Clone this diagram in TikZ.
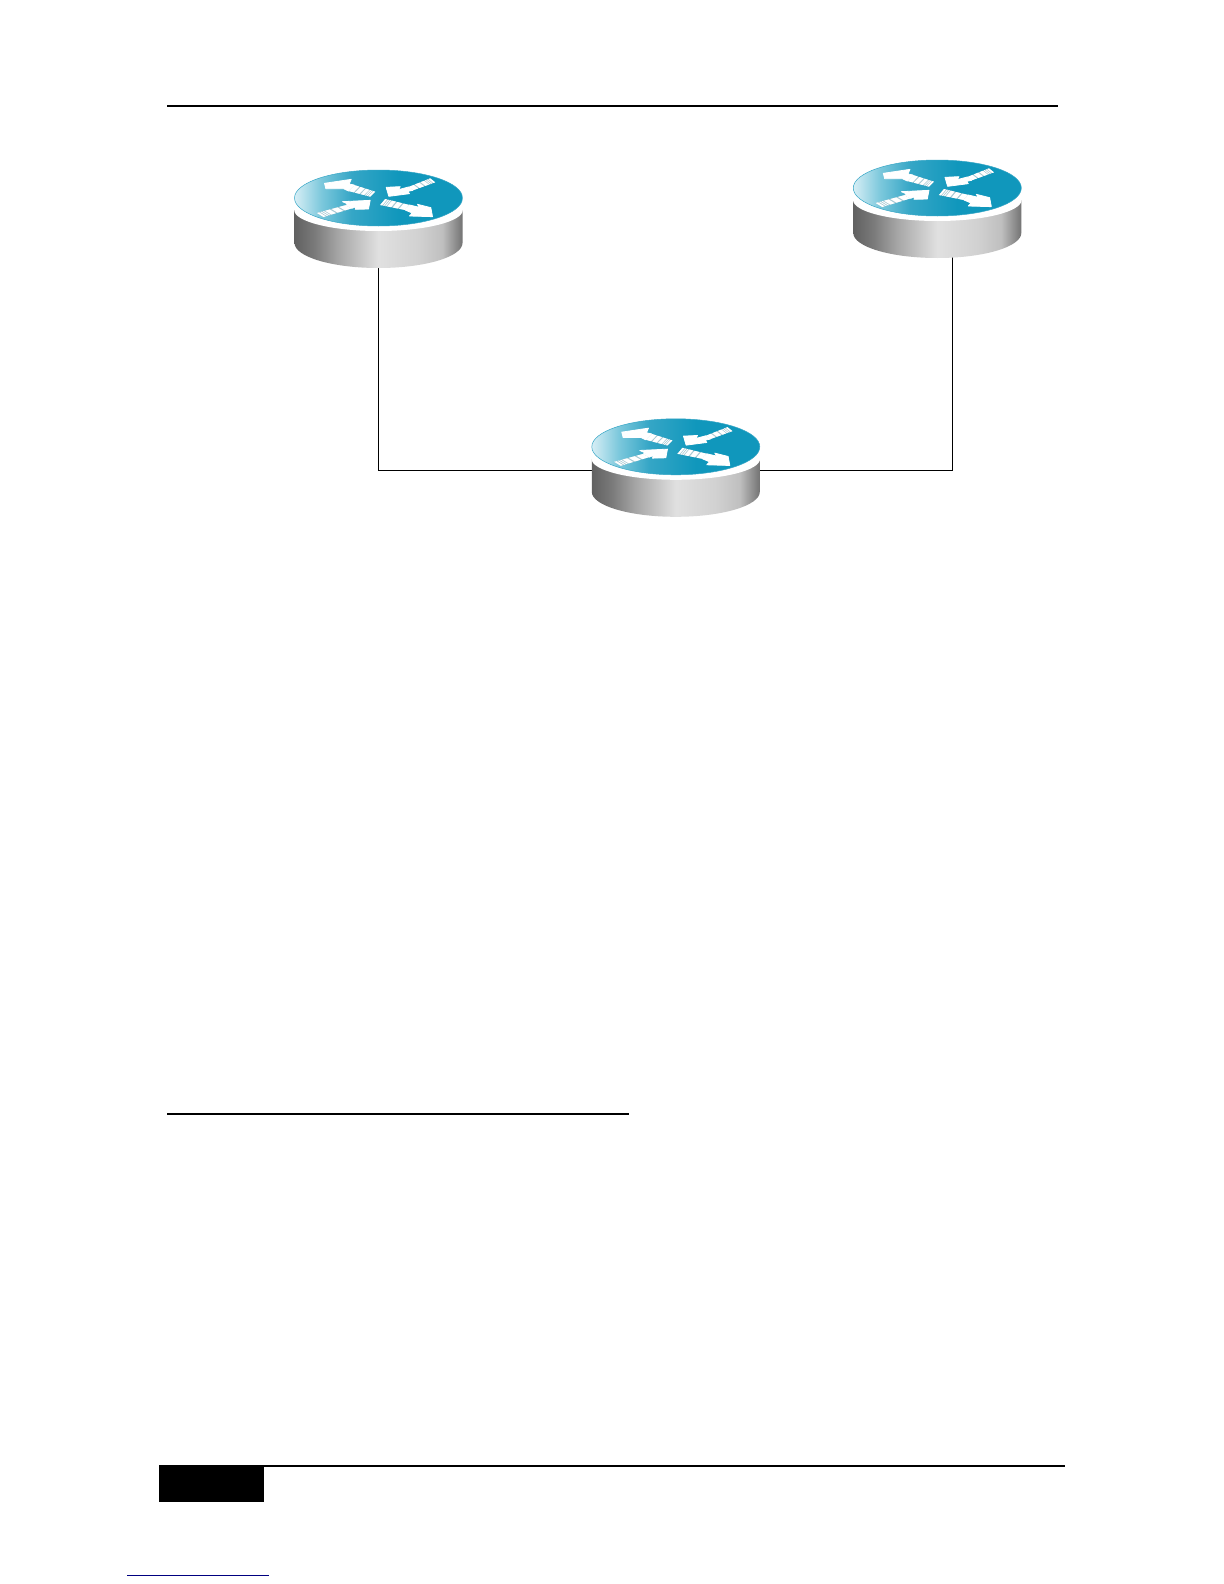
\documentclass[tikz,border=0pt]{standalone}
\usepackage{tikz}
\usetikzlibrary{positioning,calc}
\definecolor{routerink}{HTML}{A9C9D3}
\definecolor{footnavy}{HTML}{000080}
\definecolor{topa}{HTML}{D6EEF5}
\definecolor{topb}{HTML}{7CC8DC}
\definecolor{topc}{HTML}{35A6C6}
\definecolor{topd}{HTML}{1097BC}
\pgfdeclarehorizontalshading{routertop}{100bp}{
  color(0bp)=(topa); color(25bp)=(topa); color(33bp)=(topb);
  color(42bp)=(topc); color(56bp)=(topd); color(75bp)=(topd); color(100bp)=(topd)}
\pgfdeclarehorizontalshading{routerside}{100bp}{
  color(0bp)=(black!62); color(25bp)=(black!62); color(31bp)=(black!52);
  color(38bp)=(black!35); color(50bp)=(black!12); color(62bp)=(black!18);
  color(69bp)=(black!25); color(72bp)=(black!40); color(75bp)=(black!55);
  color(100bp)=(black!55)}
\tikzset{
  routerbase/.style={
    rectangle,
    inner sep=0pt,
    minimum width=84pt,
    minimum height=46pt
  },
  link/.style={
    draw=black,
    line width=0.5pt
  },
  pagerule/.style={
    draw=black,
    line width=1pt
  },
  arrowface/.style={
    fill=white,
    draw=white,
    line width=0.4pt,
    line join=round
  }
}
% stripes of one tail, corners (a)(b) at the head and (c)(d) at the far end
\newcommand{\tailband}[4]{
  \coordinate (ta) at #1; \coordinate (tb) at #2;
  \coordinate (tc) at #3; \coordinate (td) at #4;
  \fill[routerink] (ta) -- (tc) -- (td) -- (tb) -- cycle;
  \foreach \s/\e in {0.02/0.24,0.3/0.5,0.56/0.72,0.76/0.8,0.84/0.88,0.92/1} {
    \fill[white] ($(ta)!\s!(tc)$) -- ($(ta)!\e!(tc)$) -- ($(tb)!\e!(td)$) -- ($(tb)!\s!(td)$) -- cycle;
  }
}
% one router drawn over its node, origin at the middle of the top face
\newcommand{\routerface}[1]{
  \begin{scope}[shift={($(#1.center)+(0,-24)$)}]
    \shade[shading=routerside] (-84,12) -- (-84,45) arc[start angle=180, end angle=0, x radius=84, y radius=25] -- (84,12) -- cycle;
    \fill[white] (0,12) ellipse [x radius=84.3, y radius=21];
    \shade[shading=routertop] (0,0) ellipse [x radius=84, y radius=28];
    \draw[topc, line width=0.25pt] (0,0) ellipse [x radius=84, y radius=28];
    \begin{scope}[scale=1/3]
      % upper left
      \tailband{(-73,-39)}{(-90,-21)}{(-10,-19)}{(-25,-4)}
      \draw[arrowface] (-162,-44) -- (-82,-56) -- (-88,-42) -- (-73,-39) -- (-90,-21) -- (-105,-28) -- (-158,-28) -- cycle;
      % upper right
      \tailband{(90,-33)}{(103,-23)}{(155,-59)}{(170,-47)}
      \draw[arrowface] (23,-32) -- (65,-34) -- (60,-25) -- (90,-33) -- (103,-23) -- (88,-20) -- (93,-13) -- (31,-5) -- cycle;
      % lower left
      \tailband{(-97,21)}{(-80,31)}{(-185,45)}{(-165,57)}
      \draw[arrowface] (-25,7) -- (-30,33) -- (-70,34) -- (-67,26) -- (-80,31) -- (-97,21) -- (-90,19) -- (-108,11) -- cycle;
      % lower right
      \tailband{(93,21)}{(80,36)}{(20,3)}{(5,21)}
      \draw[arrowface] (157,29) -- (162,56) -- (93,54) -- (101,45) -- (80,36) -- (93,21) -- (123,28) -- (117,19) -- cycle;
    \end{scope}
  \end{scope}
}

\begin{document}
\begin{tikzpicture}[x=0.5pt, y=-0.5pt]
\useasboundingbox (0,0) rectangle (1224,1584);
\fill[white] (0,0) rectangle (1224,1584);
\draw[pagerule] (167,105.7) -- (1058,105.7);
\draw[pagerule] (167,1114) -- (629,1114);
\draw[pagerule] (159,1466) -- (1065,1466);
\fill[black] (159,1465) rectangle (264,1502);
\draw[footnavy, line width=0.5pt] (127,1575) -- (269,1575);
\node[routerbase] (rleft) at (378.5,222) {};
\node[routerbase, right=195pt of rleft, yshift=5pt] (rright) {};
\node[routerbase, below right=78pt and 64.25pt of rleft] (rmid) {};
\draw[link] (rleft.center) |- (rmid.center);
\draw[link] (rmid.center) -| ([xshift=7.5pt]rright.center);
\foreach \r in {rleft,rright,rmid} {
  \routerface{\r}
}
\end{tikzpicture}
\end{document}
